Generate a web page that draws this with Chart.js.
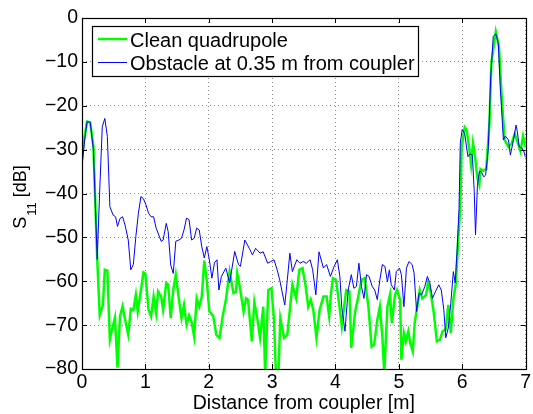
<!DOCTYPE html>
<html>
<head>
<meta charset="utf-8">
<script src="https://cdn.jsdelivr.net/npm/chart.js@4.4.0/dist/chart.umd.min.js"></script>
<style>
html, body { margin: 0; padding: 0; background: #fff; }
</style>
</head>
<body>
<canvas id="chart" width="533" height="414"></canvas>
<script>
// axis ticks
const xTicks = [0, 1, 2, 3, 4, 5, 6, 7];
const yTicks = [-80, -70, -60, -50, -40, -30, -20, -10, 0];

// clean quadrupole (distance [m], S11 [dB])
const cleanDist = [0.00, 0.04, 0.08, 0.13, 0.18, 0.24, 0.28, 0.33, 0.36, 0.40, 0.44, 0.48, 0.52, 0.56, 0.60, 0.64, 0.68, 0.73, 0.77, 0.81,
  0.85, 0.88, 0.93, 0.97, 1.00, 1.05, 1.09, 1.13, 1.17, 1.20, 1.25, 1.28, 1.33, 1.36, 1.40, 1.44, 1.48, 1.53, 1.57, 1.61,
  1.65, 1.69, 1.73, 1.77, 1.81, 1.85, 1.89, 1.93, 1.97, 2.01, 2.07, 2.12, 2.17, 2.22, 2.27, 2.33, 2.39, 2.43, 2.45, 2.49,
  2.55, 2.59, 2.62, 2.68, 2.72, 2.77, 2.81, 2.86, 2.89, 2.94, 2.99, 3.03, 3.06, 3.10, 3.13, 3.19, 3.24, 3.28, 3.32, 3.38,
  3.43, 3.48, 3.53, 3.57, 3.61, 3.65, 3.70, 3.75, 3.81, 3.86, 3.90, 3.93, 3.96, 4.01, 4.06, 4.10, 4.13, 4.17, 4.22, 4.25,
  4.31, 4.36, 4.41, 4.46, 4.52, 4.57, 4.61, 4.66, 4.70, 4.74, 4.77, 4.82, 4.86, 4.89, 4.94, 4.97, 5.02, 5.04, 5.08, 5.11,
  5.15, 5.18, 5.22, 5.25, 5.29, 5.33, 5.37, 5.43, 5.46, 5.50, 5.55, 5.60, 5.65, 5.69, 5.74, 5.78, 5.82, 5.86, 5.90, 5.94,
  5.97, 5.99, 6.04, 6.07, 6.11, 6.14, 6.17, 6.20, 6.24, 6.27, 6.29, 6.33, 6.38, 6.43, 6.46, 6.53, 6.58, 6.62, 6.67, 6.73,
  6.78, 6.83, 6.88, 6.92, 6.96, 7.00];
const cleanS11 = [-32, -27, -23.6, -23.8, -29.3, -55, -67.7, -65.4, -57.4, -57.6, -73.3, -70.6, -68.3, -79.7, -68, -65.7, -68.7, -72.2, -66.3, -66.6,
  -63.1, -66.9, -62, -58, -58.3, -66.5, -68, -63.5, -67.3, -62.3, -63.5, -66.5, -60.4, -60.8, -68.4, -62, -58.5, -64.2, -68.4, -65.4,
  -69.9, -67.8, -69.3, -72.6, -63.9, -65.8, -63.5, -55.3, -60, -66.9, -67.9, -72.2, -72.9, -68, -64.2, -57.8, -62.7, -62.4, -58.2, -61.2,
  -66.9, -63.9, -64.2, -73.7, -64.7, -68.8, -72.9, -65.8, -81, -62, -61.6, -68.8, -81, -81, -68.4, -72.9, -72.2, -66.5, -60.8, -63.9,
  -57.4, -57, -61.2, -65.8, -64.2, -66.5, -72.9, -66.5, -63.5, -63.5, -68, -62.7, -59.3, -59.7, -65.4, -70.3, -66.5, -62, -62.3, -75.2,
  -67, -63.5, -59.7, -59.3, -65.8, -74.9, -74.5, -68.8, -65.8, -72.6, -81, -65.8, -63.1, -69.5, -63.1, -62, -64.2, -77.9, -71.8, -73.7,
  -71.4, -74.1, -76, -69.5, -65.8, -62, -63.9, -63.1, -60.4, -62.3, -67, -73.7, -73.3, -71.4, -71, -65.4, -71.8, -64.2, -60.4, -49.8,
  -43.4, -29.6, -24.9, -25.5, -29.6, -33.4, -28.5, -31.2, -36.5, -38, -34.4, -34.8, -34.4, -24, -10.3, -3.1, -6.5, -17.1, -27.8, -29.4,
  -28.6, -26.4, -28.6, -30.4, -26.9, -29.4];

// obstacle at 0.35 m (distance [m], S11 [dB])
const obstDist = [0.00, 0.04, 0.08, 0.13, 0.18, 0.24, 0.28, 0.32, 0.36, 0.40, 0.44, 0.49, 0.53, 0.56, 0.60, 0.64, 0.68, 0.73, 0.77, 0.81,
  0.85, 0.89, 0.93, 0.97, 1.01, 1.05, 1.09, 1.13, 1.17, 1.20, 1.25, 1.28, 1.33, 1.36, 1.40, 1.44, 1.48, 1.53, 1.57, 1.61,
  1.65, 1.69, 1.73, 1.77, 1.81, 1.85, 1.89, 1.93, 1.97, 2.01, 2.05, 2.09, 2.13, 2.16, 2.20, 2.27, 2.33, 2.41, 2.47, 2.50,
  2.57, 2.64, 2.69, 2.74, 2.81, 2.86, 2.93, 2.98, 3.03, 3.08, 3.12, 3.20, 3.24, 3.28, 3.32, 3.39, 3.44, 3.49, 3.54, 3.60,
  3.64, 3.69, 3.74, 3.81, 3.86, 3.92, 3.98, 4.03, 4.07, 4.10, 4.15, 4.20, 4.25, 4.29, 4.33, 4.37, 4.41, 4.45, 4.49, 4.53,
  4.58, 4.62, 4.66, 4.70, 4.74, 4.78, 4.82, 4.85, 4.88, 4.93, 4.96, 5.01, 5.04, 5.08, 5.12, 5.16, 5.21, 5.24, 5.28, 5.32,
  5.36, 5.41, 5.45, 5.49, 5.53, 5.58, 5.63, 5.67, 5.71, 5.74, 5.78, 5.82, 5.86, 5.89, 5.92, 5.95, 5.97, 6.00, 6.04, 6.09,
  6.12, 6.16, 6.19, 6.21, 6.24, 6.27, 6.30, 6.34, 6.37, 6.41, 6.45, 6.49, 6.53, 6.57, 6.60, 6.65, 6.68, 6.73, 6.76, 6.80,
  6.85, 6.87, 6.90, 6.94, 6.97, 7.00];
const obstS11 = [-33.9, -28, -23.6, -23.8, -30, -55, -39.2, -24.8, -22.9, -27, -43, -44.9, -45.3, -47.5, -45.7, -45.3, -47.2, -50.6, -57.4, -56.2,
  -49.8, -44.5, -40.7, -41.2, -42.6, -44.5, -45.3, -45.3, -47.9, -49, -50.9, -50.6, -46.8, -48.7, -56.3, -58.2, -50.9, -50.6, -50.2, -48.3,
  -45.6, -46, -50.6, -50.2, -47.9, -48.3, -52.1, -54.7, -52.1, -55.1, -59.3, -55.8, -55.1, -62, -58.9, -57, -60.4, -53.2, -56.2, -56.6,
  -50.6, -52.5, -54, -52.5, -53.6, -53.3, -55.9, -55.5, -55.1, -57.4, -59.7, -65.4, -59.7, -53.6, -57.8, -55.1, -55.9, -55.5, -55.9, -55.1,
  -57.4, -63.1, -53.3, -57, -56.2, -58.9, -56.6, -55.1, -59, -66, -71.4, -62, -58.5, -61.6, -61.2, -55.9, -61.2, -63.9, -58.5, -58.9,
  -61.2, -62, -64.2, -59.7, -56.2, -56.6, -60.1, -57.4, -60.8, -62, -57.8, -57, -58.5, -65.8, -57, -55.5, -56.2, -58.1, -66.9, -62.7,
  -63.1, -61.2, -58.9, -60.4, -63.9, -62.3, -60.8, -62, -66.5, -72.9, -70.7, -65, -57.8, -60.4, -52.8, -43.4, -28.5, -25.4, -26.4, -31.6,
  -31, -31.2, -39.6, -49.4, -38.2, -35, -35, -36.2, -35.8, -30, -13.4, -4.2, -3.6, -5.8, -15.6, -27.8, -26.9, -27.8, -31.2, -28.5,
  -24.4, -25.9, -29.4, -29.6, -30.3, -31.8];

const FONT = '"Liberation Sans", Arial, Helvetica, sans-serif';

function toPoints(xs, ys) {
    return xs.map((x, i) => ({ x: x, y: ys[i] }));
}

// minus sign like matlab
function fmtTick(v) {
    return v < 0 ? '\u2212' + Math.abs(v) : String(v);
}

// box, inner tick marks, legend and axis titles
const matlabFrame = {
    id: 'matlabFrame',
    afterDatasetsDraw(chart) {
        const ctx = chart.ctx;
        const a = chart.chartArea;
        const xs = chart.scales.x, ys = chart.scales.y;
        const tl = 5;
        ctx.save();
        ctx.strokeStyle = '#000';
        ctx.lineWidth = 1;
        ctx.beginPath();
        xTicks.forEach(v => {
            const px = Math.round(xs.getPixelForValue(v)) + 0.5;
            ctx.moveTo(px, a.bottom); ctx.lineTo(px, a.bottom - tl);
            ctx.moveTo(px, a.top); ctx.lineTo(px, a.top + tl);
        });
        yTicks.forEach(v => {
            const py = Math.round(ys.getPixelForValue(v)) + 0.5;
            ctx.moveTo(a.left, py); ctx.lineTo(a.left + tl, py);
            ctx.moveTo(a.right, py); ctx.lineTo(a.right - tl, py);
        });
        ctx.stroke();
        ctx.lineWidth = 1.2;
        ctx.strokeRect(Math.round(a.left) + 0.5, Math.round(a.top) + 0.5, Math.round(a.right - a.left), Math.round(a.bottom - a.top));

        // legend
        const lx = a.left + 10, ly = a.top + 8, lw = 326, lh = 50;
        ctx.fillStyle = '#fff';
        ctx.fillRect(lx, ly, lw, lh);
        ctx.lineWidth = 1.2;
        ctx.strokeRect(lx + 0.5, ly + 0.5, lw, lh);
        ctx.font = '20px ' + FONT;
        ctx.textBaseline = 'alphabetic';
        ctx.textAlign = 'left';
        const rows = [chart.data.datasets[0], chart.data.datasets[1]];
        rows.forEach((ds, i) => {
            const cy = ly + 13 + i * 23.5;
            ctx.strokeStyle = ds.borderColor;
            ctx.lineWidth = ds.borderWidth;
            ctx.beginPath();
            ctx.moveTo(lx + 6, cy); ctx.lineTo(lx + 35, cy);
            ctx.stroke();
            ctx.fillStyle = '#000';
            ctx.fillText(ds.label, lx + 38, cy + 7.5);
        });

        // x title
        ctx.fillStyle = '#000';
        ctx.textAlign = 'center';
        ctx.font = '19.5px ' + FONT;
        ctx.fillText('Distance from coupler [m]', (a.left + a.right) / 2, 408.5);

        // y title with subscript
        ctx.translate(26, 197);
        ctx.rotate(-Math.PI / 2);
        ctx.textAlign = 'left';
        ctx.font = '18px ' + FONT;
        const wS = ctx.measureText('S').width;
        const wU = ctx.measureText(' [dB]').width;
        ctx.font = '13px ' + FONT;
        const w11 = ctx.measureText('11').width;
        const total = wS + 1 + w11 + wU;
        let x0 = -total / 2;
        ctx.font = '18px ' + FONT;
        ctx.fillText('S', x0, 0);
        ctx.font = '13px ' + FONT;
        ctx.fillText('11', x0 + wS + 1, 10);
        ctx.font = '18px ' + FONT;
        ctx.fillText(' [dB]', x0 + wS + 1 + w11, 0);
        ctx.restore();
    }
};

const gridOpts = { color: '#8a8a8a', lineWidth: 1, drawTicks: false };
const tickFont = { family: FONT, size: 19.5 };

new Chart(document.getElementById('chart'), {
    type: 'line',
    data: {
        datasets: [
            {
                label: 'Clean quadrupole',
                data: toPoints(cleanDist, cleanS11),
                borderColor: '#00ff00',
                borderWidth: 2.5,
                pointRadius: 0,
                tension: 0,
                order: 2
            },
            {
                label: 'Obstacle at 0.35 m from coupler',
                data: toPoints(obstDist, obstS11),
                borderColor: '#0000ff',
                borderWidth: 1,
                pointRadius: 0,
                tension: 0,
                order: 1
            }
        ]
    },
    options: {
        responsive: false,
        animation: false,
        devicePixelRatio: 1,
        layout: { padding: { top: 18, right: 7, left: 0, bottom: 0 } },
        plugins: { legend: { display: false }, tooltip: { enabled: false } },
        scales: {
            x: {
                type: 'linear',
                min: 0,
                max: 7,
                afterBuildTicks: axis => { axis.ticks = xTicks.map(v => ({ value: v })); },
                afterFit: axis => { axis.height = 45; },
                grid: gridOpts,
                border: { display: false, dash: [1, 3] },
                ticks: { padding: 2, color: '#000', font: tickFont, maxRotation: 0, callback: v => fmtTick(v) }
            },
            y: {
                type: 'linear',
                min: -80,
                max: 0,
                afterBuildTicks: axis => { axis.ticks = yTicks.map(v => ({ value: v })); },
                afterFit: axis => { axis.width = 82; },
                grid: gridOpts,
                border: { display: false, dash: [1, 3] },
                ticks: { padding: 4, color: '#000', font: tickFont, callback: v => fmtTick(v) }
            }
        }
    },
    plugins: [matlabFrame]
});
</script>
</body>
</html>
